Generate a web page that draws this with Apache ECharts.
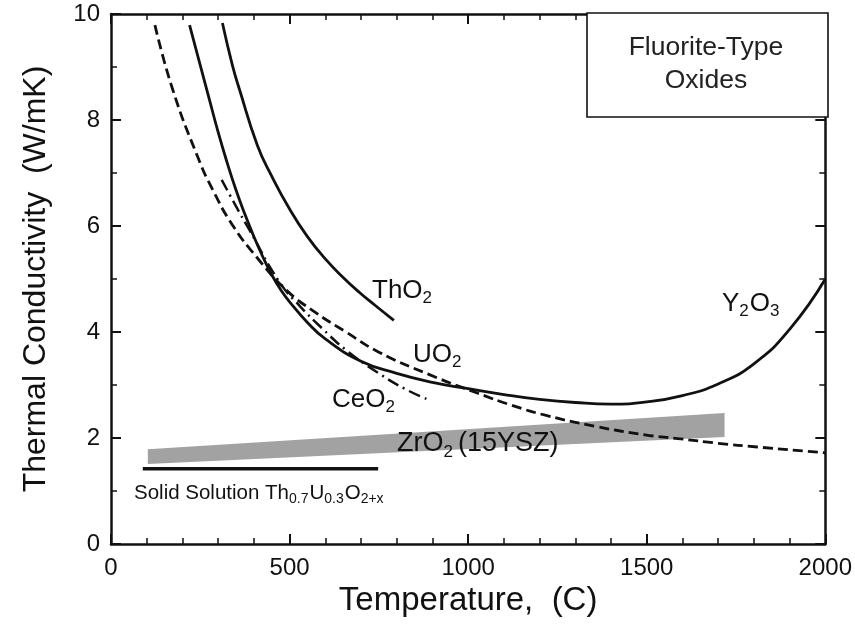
<!DOCTYPE html>
<html>
<head>
<meta charset="utf-8">
<script src="https://cdn.jsdelivr.net/npm/echarts@6/dist/echarts.min.js"></script>
<style>
  html, body { margin: 0; padding: 0; background: #fff; }
  #chart { width: 855px; height: 631px; }
</style>
</head>
<body>
<div id="chart"></div>
<script>
// temperature (C), thermal conductivity (W/mK)
const thO2 = [[312, 9.83], [340, 9.03], [360, 8.57], [410, 7.52], [450, 6.94], [500, 6.32], [550, 5.8],
  [600, 5.38], [650, 5.03], [695, 4.75], [740, 4.5], [792, 4.22]]
const y2O3 = [[220, 9.79], [250, 9.03], [275, 8.4], [300, 7.77], [325, 7.2], [350, 6.68], [375, 6.22],
  [400, 5.8], [425, 5.42], [450, 5.08], [475, 4.8], [500, 4.57], [550, 4.18], [600, 3.87], [700, 3.45],
  [800, 3.22], [900, 3.05], [1000, 2.93], [1100, 2.82], [1200, 2.73], [1300, 2.67], [1400, 2.64],
  [1500, 2.68], [1600, 2.8], [1700, 3.02], [1800, 3.4], [1900, 4.05], [2000, 5.0]]
const uO2 = [[123, 9.79], [173, 8.57], [243, 7.3], [285, 6.68], [340, 6.02], [407, 5.42], [491, 4.79],
  [570, 4.38], [658, 4.0], [750, 3.62], [890, 3.2], [1029, 2.84], [1121, 2.62], [1216, 2.43],
  [1356, 2.22], [1495, 2.06], [1587, 1.99], [1700, 1.9], [1810, 1.83], [2000, 1.72]]
const ceO2 = [[310, 6.87], [351, 6.36], [388, 5.92], [471, 4.95], [530, 4.48], [591, 4.07], [658, 3.66],
  [750, 3.22], [825, 2.92], [890, 2.72]]
// ZrO2 band: temperature, lower edge, upper edge
const zrO2Band = [[103, 1.51, 1.79], [1718, 2.02, 2.47]]
const solidSolution = [[89, 1.42], [748, 1.42]]

const xTicks = [0, 500, 1000, 1500, 2000]
const yTicks = [0, 2, 4, 6, 8, 10]

const FONT = '"Liberation Sans", Arial, Helvetica, sans-serif'
const INK = '#111'

const chart = echarts.init(document.getElementById('chart'))

const baseAxis = {
  type: 'value',
  axisLine: { show: true, onZero: false, lineStyle: { color: INK, width: 2.5 } },
  axisTick: { show: true, inside: true, length: 10, lineStyle: { color: INK, width: 2 } },
  minorTick: { show: true, length: 6, lineStyle: { color: INK, width: 1.5 } },
  splitLine: { show: false },
  axisLabel: { color: INK, fontSize: 24, fontFamily: FONT, formatter: v => String(v) }
}

const lineSeries = (name, data, type, width) => ({
  name,
  type: 'line',
  data,
  smooth: 0.5,
  symbol: 'none',
  silent: true,
  lineStyle: { color: INK, width: width || 2.8, type: type }
})

const label = (x, y, text, size, subSize, drop, gap) => ({
  type: 'text',
  x, y,
  z: 100,
  style: {
    text,
    fill: INK,
    font: size + 'px ' + FONT,
    textVerticalAlign: 'top',
    rich: {
      m: { fontSize: size, fontFamily: FONT, color: INK },
      s: { fontSize: subSize, fontFamily: FONT, color: INK, padding: [drop, gap || 1, 0, 0] }
    }
  }
})

chart.setOption({
  animation: false,
  backgroundColor: '#fff',
  grid: { left: 111, right: 27, top: 14, bottom: 87 },
  xAxis: [
    Object.assign({}, baseAxis, {
      min: xTicks[0], max: xTicks[xTicks.length - 1], interval: 500,
      minorTick: Object.assign({}, baseAxis.minorTick, { splitNumber: 5 }),
      axisLabel: Object.assign({}, baseAxis.axisLabel, { margin: 12 }),
      name: 'Temperature,  (C)',
      nameLocation: 'middle',
      nameGap: 40,
      nameTextStyle: { color: INK, fontSize: 33, fontFamily: FONT }
    }),
    Object.assign({}, baseAxis, {
      position: 'top',
      min: xTicks[0], max: xTicks[xTicks.length - 1], interval: 500,
      minorTick: Object.assign({}, baseAxis.minorTick, { splitNumber: 5 }),
      axisLabel: { show: false }
    })
  ],
  yAxis: [
    Object.assign({}, baseAxis, {
      min: yTicks[0], max: yTicks[yTicks.length - 1], interval: 2,
      minorTick: Object.assign({}, baseAxis.minorTick, { splitNumber: 2 }),
      axisLabel: Object.assign({}, baseAxis.axisLabel, { margin: 11 }),
      name: 'Thermal Conductivity  (W/mK)',
      nameLocation: 'middle',
      nameGap: 59,
      nameTextStyle: { color: INK, fontSize: 32, fontFamily: FONT }
    }),
    Object.assign({}, baseAxis, {
      position: 'right',
      min: yTicks[0], max: yTicks[yTicks.length - 1], interval: 2,
      minorTick: Object.assign({}, baseAxis.minorTick, { splitNumber: 2 }),
      axisLabel: { show: false }
    })
  ],
  series: [
    {
      name: 'ZrO2 (15YSZ)',
      type: 'custom',
      silent: true,
      data: [0],
      renderItem: (params, api) => {
        const upper = zrO2Band.map(d => api.coord([d[0], d[2]]))
        const lower = zrO2Band.slice().reverse().map(d => api.coord([d[0], d[1]]))
        return {
          type: 'polygon',
          shape: { points: upper.concat(lower) },
          style: { fill: '#a2a2a2' }
        }
      },
      z: 1
    },
    Object.assign(lineSeries('Solid Solution', solidSolution, 'solid', 3.5), { smooth: false }),
    lineSeries('ThO2', thO2, 'solid'),
    lineSeries('Y2O3', y2O3, 'solid'),
    lineSeries('UO2', uO2, [10, 5]),
    lineSeries('CeO2', ceO2, [12, 5, 2, 5], 2.5)
  ],
  graphic: [
    {
      type: 'rect',
      shape: { x: 587, y: 13, width: 241, height: 104 },
      style: { fill: '#fff', stroke: INK, lineWidth: 1.6 },
      z: 10
    },
    {
      type: 'text',
      x: 706, y: 64,
      z: 11,
      style: {
        text: 'Fluorite-Type\nOxides',
        fill: '#222',
        font: '26.5px ' + FONT,
        lineHeight: 33,
        textAlign: 'center',
        textVerticalAlign: 'middle'
      }
    },
    label(372, 274, '{m|ThO}{s|2}', 26, 17, 16),
    label(413, 338, '{m|UO}{s|2}', 26, 17, 16),
    label(332, 383, '{m|CeO}{s|2}', 26, 17, 16),
    label(722, 287, '{m|Y}{s|2}{m|O}{s|3}', 26, 17, 16),
    label(397, 427, '{m|ZrO}{s|2}{m|(15YSZ)}', 27, 17, 17, 5),
    label(134, 480, '{m|Solid Solution Th}{s|0.7}{m|U}{s|0.3}{m|O}{s|2+x}', 20.5, 14, 12)
  ]
})
</script>
</body>
</html>
